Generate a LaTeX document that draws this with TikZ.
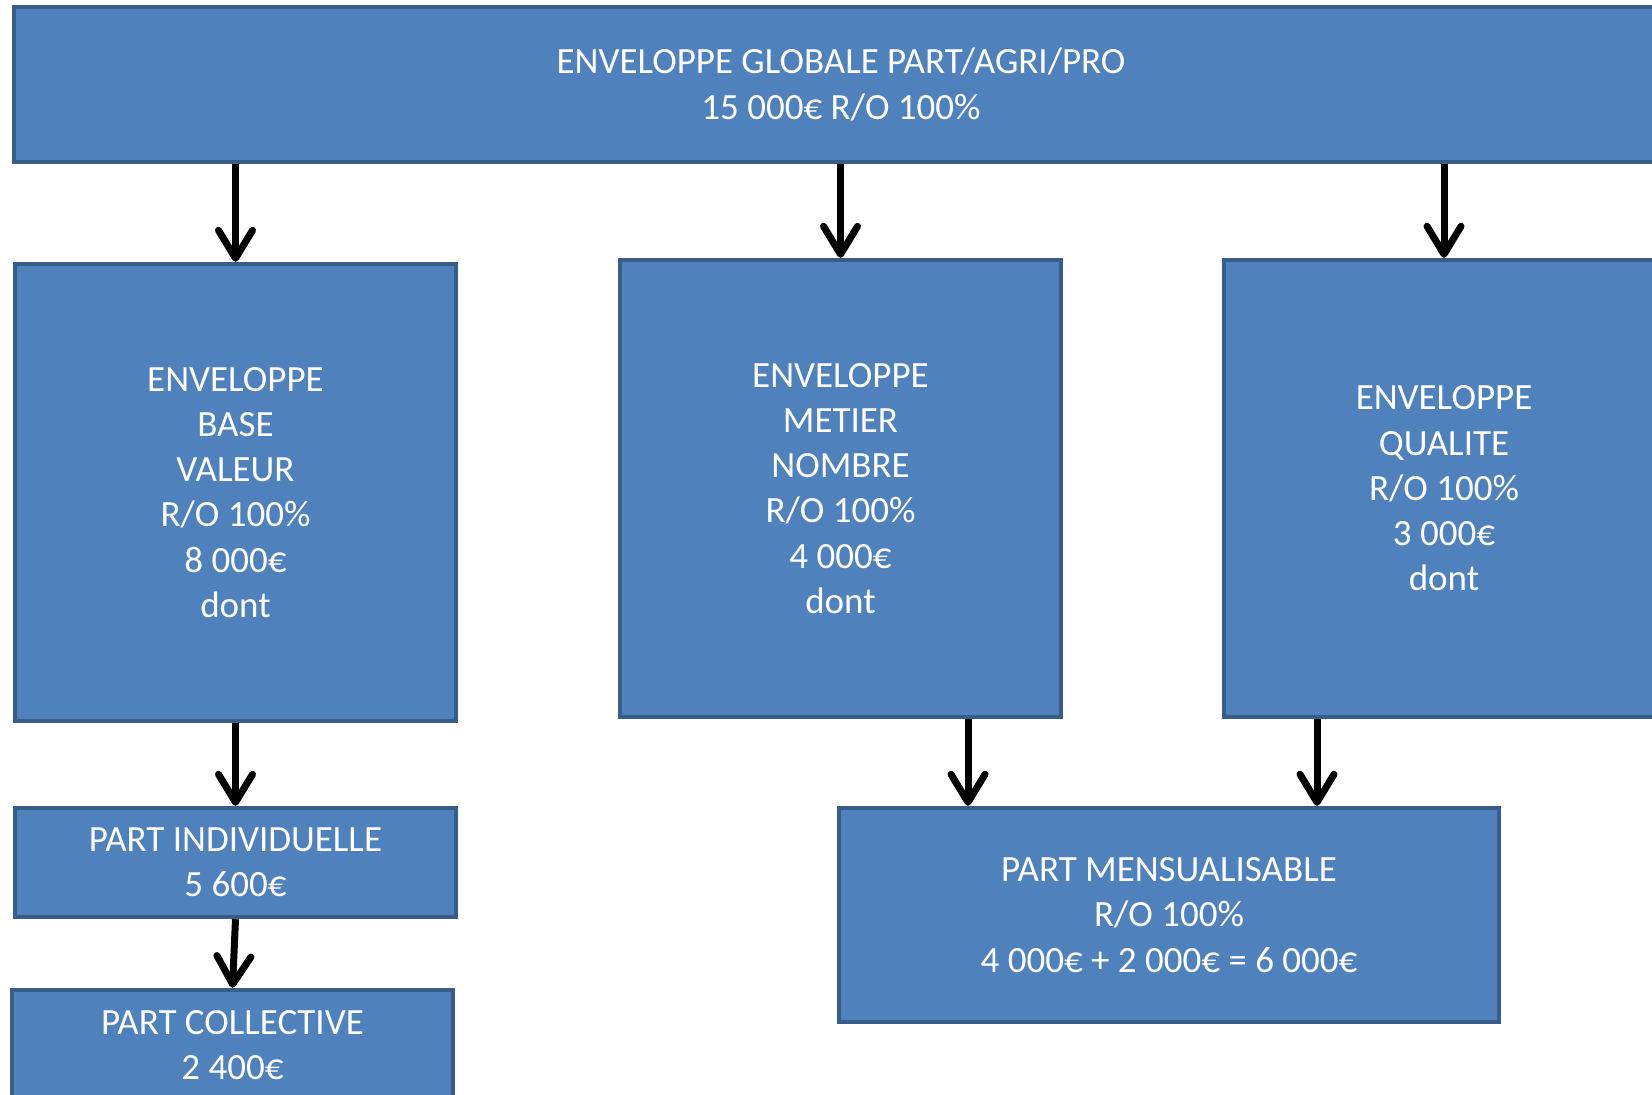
\documentclass[tikz,border=0pt]{standalone}
\usepackage{fontspec}
\setmainfont{Carlito}
\usetikzlibrary{arrows.meta}
\definecolor{boxfill}{HTML}{4F81BD}
\definecolor{boxline}{HTML}{385D8A}
\tikzset{
  box/.style={draw=boxline, fill=boxfill, line width=2.2pt, text=white, align=center,
    font=\fontsize{18.5}{22.6}\selectfont, inner sep=0pt},
  conn/.style={line width=3.5pt, -{Straight Barb[length=14pt,width=17pt,round]}}
}
\begin{document}
\begin{tikzpicture}[x=0.5pt,y=-0.5pt]
\useasboundingbox (0,0) rectangle (1652,1095);
\node[box, minimum width=827pt, minimum height=77.5pt] (top) at (841,84.5)
  {ENVELOPPE GLOBALE PART/AGRI/PRO\\15 000€ R/O 100\%};
\node[box, minimum width=220.5pt, minimum height=228.5pt] (base) at (235.5,492.5)
  {ENVELOPPE\\BASE\\VALEUR\\R/O 100\%\\8 000€\\dont};
\node[box, minimum width=220.5pt, minimum height=228.5pt] (metier) at (840.5,488.5)
  {ENVELOPPE\\METIER\\NOMBRE\\R/O 100\%\\4 000€\\dont};
\node[box, minimum width=220pt, minimum height=228.5pt] (qualite) at (1444,488.5)
  {ENVELOPPE\\QUALITE\\R/O 100\%\\3 000€\\dont};
\node[box, minimum width=220.5pt, minimum height=54.5pt] (pi) at (235.5,862.5)
  {PART INDIVIDUELLE\\5 600€};
\node[box, minimum width=220.5pt, minimum height=55pt] (pc) at (232.5,1045)
  {PART COLLECTIVE\\2 400€};
\node[box, minimum width=330pt, minimum height=107pt] (pm) at (1169,915)
  {PART MENSUALISABLE\\R/O 100\%\\4 000€ + 2 000€ = 6 000€};
\coordinate (m1) at ([xshift=63.75pt]metier.south);
\coordinate (q1) at ([xshift=-63.5pt]qualite.south);
\draw[conn] (top.south -| base.north) -- (base.north);
\draw[conn] (top.south -| metier.north) -- (metier.north);
\draw[conn] (top.south -| qualite.north) -- (qualite.north);
\draw[conn] (base.south) -- (pi.north);
\draw[conn] (pi.south) -- (pc.north);
\draw[conn] (m1) -- (m1 |- pm.north);
\draw[conn] (q1) -- (q1 |- pm.north);
\end{tikzpicture}
\end{document}
